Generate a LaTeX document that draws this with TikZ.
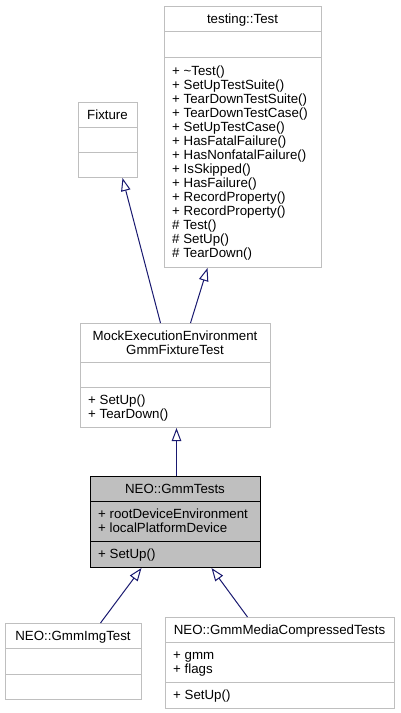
\documentclass[tikz,border=0pt]{standalone}
\usepackage{fontspec}
\setmainfont{Liberation Sans}
\usetikzlibrary{arrows.meta}
\definecolor{umlgrey}{RGB}{191,191,191}
\definecolor{umlnavy}{RGB}{25,25,112}

\begin{document}
\begin{tikzpicture}[x=1pt, y=-1pt,
      cls/.style={draw=umlgrey, fill=white, line width=1pt, anchor=north west, inner sep=0pt},
      mainclass/.style={cls, draw=black, fill=umlgrey},
      sepline/.style={draw=umlgrey, line width=1pt},
      mainsep/.style={draw=black, line width=1pt},
      title/.style={anchor=base, inner sep=0pt, font=\fontsize{13.3}{14}\selectfont},
      member/.style={anchor=base west, inner sep=0pt, font=\fontsize{13.3}{14}\selectfont},
      inherit/.style={-{Triangle[open, length=13pt, width=9.5pt]}, line width=1pt, umlnavy}]
    \useasboundingbox[fill=white] (0,0) rectangle (400,713);
    % class boxes
    \node[cls, minimum width=157pt, minimum height=261pt] (test) at (164,6) {};
    \node[cls, minimum width=59pt, minimum height=75pt] (fixture) at (78,102) {};
    \node[cls, minimum width=190pt, minimum height=104pt] (mock) at (80,323) {};
    \node[mainclass, minimum width=170pt, minimum height=91pt] (gmmtests) at (90,476) {};
    \node[cls, minimum width=136pt, minimum height=76pt] (imgtest) at (5,623) {};
    \node[cls, minimum width=229pt, minimum height=91pt] (mediatests) at (165,617) {};
    % compartments
    \foreach \b/\d in {test/25, test/51, fixture/25, fixture/50, mock/39, mock/64,
                       imgtest/25, imgtest/51, mediatests/25, mediatests/65}
      \draw[sepline] ([yshift=-\d pt]\b.north west) -- ([yshift=-\d pt]\b.north east);
    \foreach \d in {25, 65}
      \draw[mainsep] ([yshift=-\d pt]gmmtests.north west) -- ([yshift=-\d pt]gmmtests.north east);
    % titles
    \node[title] (testname) at (242.5,23) {testing::Test};
    \node[title] (fixturename) at (107.5,119) {Fixture};
    \node[title] (mockname1) at (175,340) {MockExecutionEnvironment};
    \node[title] (mockname2) at (175,354) {GmmFixtureTest};
    \node[title] (gmmtestsname) at (175,493) {NEO::GmmTests};
    \node[title] (imgtestname) at (73,640) {NEO::GmmImgTest};
    \node[title] (mediatestsname) at (279.5,634) {NEO::GmmMediaCompressedTests};
    % members
    \foreach \m [count=\i from 0] in {+ \textasciitilde Test(), + SetUpTestSuite(), + TearDownTestSuite(),
        + TearDownTestCase(), + SetUpTestCase(), + HasFatalFailure(), + HasNonfatalFailure(),
        + IsSkipped(), + HasFailure(), + RecordProperty(), + RecordProperty(),
        \# Test(), \# SetUp(), \# TearDown()}
      \node[member] (testm\i) at (172,75.5+14*\i) {\m};
    \node[member] (mockm1) at (88,404.5) {+ SetUp()};
    \node[member] (mockm2) at (88,418.5) {+ TearDown()};
    \node[member] (gmmtestsa1) at (98,518.5) {+ rootDeviceEnvironment};
    \node[member] (gmmtestsa2) at (98,532.5) {+ localPlatformDevice};
    \node[member] (gmmtestsm1) at (98,558.5) {+ SetUp()};
    \node[member] (mediaa1) at (173,659.5) {+ gmm};
    \node[member] (mediaa2) at (173,673.5) {+ flags};
    \node[member] (mediam1) at (173,699.5) {+ SetUp()};
    % inheritance
    \draw[inherit] ([xshift=-15pt]mock.north) -- ([xshift=14.5pt]fixture.south);
    \draw[inherit] ([xshift=15pt]mock.north) -- ([xshift=-35.5pt]test.south);
    \draw[inherit] ([xshift=1pt]gmmtests.north) -- ([xshift=1pt]mock.south);
    \draw[inherit] ([xshift=27pt]imgtest.north) -- ([xshift=-34pt]gmmtests.south);
    \draw[inherit] ([xshift=-32.5pt]mediatests.north) -- ([xshift=36pt]gmmtests.south);
  \end{tikzpicture}
\end{document}
